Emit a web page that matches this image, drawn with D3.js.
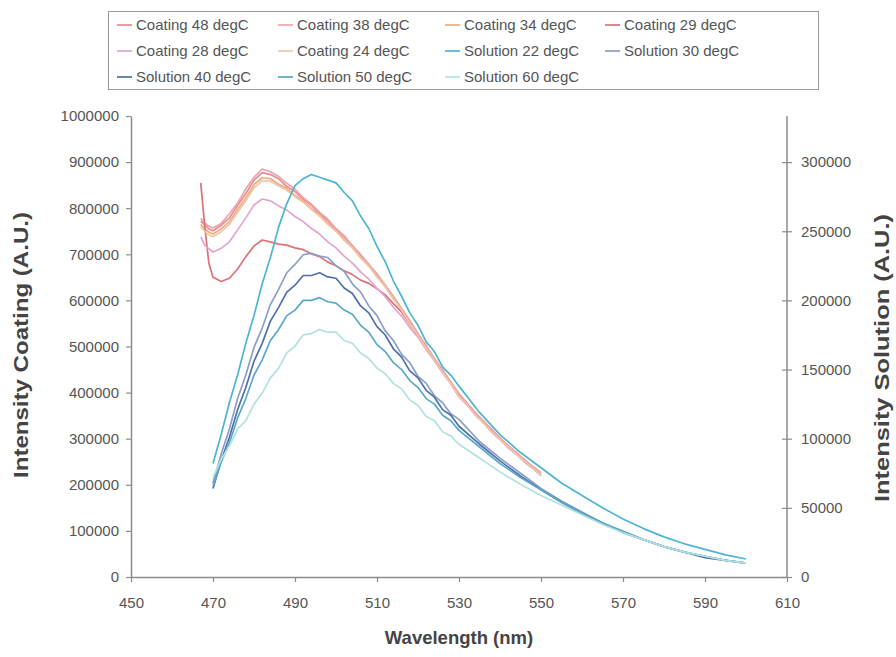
<!DOCTYPE html>
<html>
<head>
<meta charset="utf-8">
<script src="https://cdn.jsdelivr.net/npm/d3@7"></script>
<style>
  body { margin: 0; background: #fff; }
  svg { display: block; font-family: "Liberation Sans", Arial, sans-serif; }
</style>
</head>
<body>
<svg id="chart" width="896" height="657"></svg>
<script>
// Emission spectra: coating samples (left axis) and solution samples (right axis)
const coatingNm = [467, 468, 469, 470, 472, 474, 476, 478, 480, 482, 484, 486, 488, 490, 492, 494, 496, 498, 500,
  502, 504, 506, 508, 510, 512, 514, 516, 518, 520, 522, 524, 526, 528, 530, 532, 534, 536, 538, 540,
  542, 544, 546, 548, 550];

const coating48 = [772e3, 764e3, 755e3, 751e3, 763e3, 779e3, 806e3, 832e3, 861e3, 877e3, 873e3, 864e3, 847e3, 836e3, 820e3, 806e3, 788e3, 773e3, 754e3,
  737e3, 718e3, 697e3, 678e3, 655e3, 633e3, 606e3, 582e3, 553e3, 528e3, 499e3, 474e3, 447e3, 423e3, 396e3, 377e3, 355e3, 338e3, 318e3, 302e3,
  284e3, 270e3, 253e3, 240e3, 225e3];
const coating38 = [778e3, 768e3, 761e3, 757e3, 767e3, 788e3, 811e3, 842e3, 867e3, 885e3, 879e3, 869e3, 854e3, 841e3, 823e3, 809e3, 791e3, 776e3, 756e3,
  740e3, 719e3, 700e3, 678e3, 658e3, 633e3, 609e3, 582e3, 557e3, 527e3, 502e3, 473e3, 450e3, 422e3, 398e3, 376e3, 357e3, 337e3, 321e3, 301e3,
  286e3, 269e3, 255e3, 239e3, 227e3];
const coating34 = [765e3, 755e3, 748e3, 744e3, 755e3, 771e3, 797e3, 822e3, 851e3, 866e3, 864e3, 852e3, 843e3, 828e3, 816e3, 799e3, 785e3, 767e3, 751e3,
  732e3, 715e3, 693e3, 675e3, 652e3, 630e3, 604e3, 580e3, 551e3, 526e3, 497e3, 472e3, 445e3, 421e3, 393e3, 375e3, 353e3, 336e3, 316e3, 300e3,
  282e3, 268e3, 251e3, 238e3, 223e3];
const coating29 = [855e3, 760e3, 680e3, 650e3, 641e3, 648e3, 668e3, 695e3, 718e3, 731e3, 727e3, 722e3, 720e3, 714e3, 710e3, 701e3, 695e3, 683e3, 675e3,
  664e3, 656e3, 644e3, 637e3, 625e3, 612e3, 593e3, 575e3, 549e3, 525e3, 496e3, 471e3, 444e3, 420e3, 392e3, 374e3, 352e3, 335e3, 315e3, 299e3,
  281e3, 267e3, 250e3, 237e3, 221e3];
const coating28 = [738e3, 720e3, 712e3, 705e3, 713e3, 727e3, 753e3, 779e3, 807e3, 820e3, 816e3, 805e3, 796e3, 782e3, 771e3, 756e3, 744e3, 727e3, 714e3,
  696e3, 681e3, 662e3, 646e3, 626e3, 608e3, 585e3, 566e3, 541e3, 520e3, 493e3, 469e3, 443e3, 419e3, 391e3, 373e3, 351e3, 334e3, 314e3, 298e3,
  280e3, 266e3, 249e3, 236e3, 220e3];
const coating24 = [760e3, 750e3, 742e3, 738e3, 749e3, 765e3, 791e3, 816e3, 844e3, 860e3, 859e3, 848e3, 839e3, 825e3, 813e3, 797e3, 783e3, 765e3, 750e3,
  730e3, 714e3, 692e3, 674e3, 651e3, 629e3, 603e3, 579e3, 550e3, 525e3, 496e3, 471e3, 444e3, 420e3, 392e3, 374e3, 352e3, 335e3, 315e3, 299e3,
  282e3, 267e3, 251e3, 237e3, 222e3];

const solutionNm = [470, 472, 474, 476, 478, 480, 482, 484, 486, 488, 490, 492, 494, 496, 498, 500, 502, 504, 506, 508,
  510, 512, 514, 516, 518, 520, 522, 524, 526, 528, 530, 535, 540, 545, 550, 555, 560, 565, 570, 575,
  580, 585, 590, 595, 600];

const solution22 = [82e3, 103e3, 126e3, 146e3, 169e3, 189e3, 212e3, 231e3, 253e3, 270e3, 283e3, 288e3, 291e3, 289e3, 287e3, 285e3, 278e3, 272e3, 261e3, 252e3,
  239e3, 228e3, 214e3, 203e3, 191e3, 182e3, 170e3, 163e3, 152e3, 146e3, 138e3, 119e3, 103e3, 90e3, 79e3, 68e3, 59e3, 50e3, 42e3, 35e3,
  29e3, 24e3, 20e3, 16e3, 13e3];
const solution30 = [68e3, 89e3, 107e3, 129e3, 146e3, 166e3, 180e3, 197e3, 208e3, 220e3, 226e3, 233e3, 234e3, 232e3, 231e3, 225e3, 221e3, 212e3, 206e3, 196e3,
  189e3, 178e3, 171e3, 161e3, 155e3, 145e3, 140e3, 131e3, 126e3, 118e3, 114e3, 98e3, 86e3, 75e3, 64e3, 55e3, 47e3, 39e3, 33e3, 27e3,
  22e3, 18e3, 15e3, 12e3, 10e3];
const solution40 = [64e3, 84e3, 101e3, 121e3, 137e3, 156e3, 169e3, 185e3, 195e3, 206e3, 211e3, 218e3, 218e3, 220e3, 217e3, 216e3, 209e3, 205e3, 196e3, 191e3,
  181e3, 175e3, 165e3, 159e3, 149e3, 144e3, 135e3, 130e3, 121e3, 117e3, 109e3, 96e3, 84e3, 73e3, 63e3, 54e3, 46e3, 39e3, 32e3, 27e3,
  22e3, 18e3, 14e3, 12e3, 10e3];
const solution50 = [66e3, 83e3, 97e3, 115e3, 129e3, 146e3, 157e3, 171e3, 179e3, 189e3, 193e3, 200e3, 200e3, 202e3, 199e3, 198e3, 193e3, 190e3, 182e3, 177e3,
  168e3, 163e3, 155e3, 150e3, 142e3, 137e3, 129e3, 125e3, 117e3, 113e3, 106e3, 94e3, 82e3, 72e3, 63e3, 54e3, 46e3, 39e3, 33e3, 27e3,
  22e3, 18e3, 15e3, 12e3, 10e3];
const solution60 = [72e3, 85e3, 95e3, 107e3, 113e3, 125e3, 133e3, 144e3, 151e3, 162e3, 167e3, 175e3, 176e3, 179e3, 177e3, 177e3, 171e3, 169e3, 162e3, 158e3,
  151e3, 147e3, 140e3, 136e3, 128e3, 124e3, 116e3, 113e3, 105e3, 102e3, 96e3, 86e3, 76e3, 67e3, 59e3, 52e3, 45e3, 38e3, 32e3, 27e3,
  22e3, 18e3, 15e3, 12e3, 10e3];

const seriesNames = ["Coating 48 degC", "Coating 38 degC", "Coating 34 degC", "Coating 29 degC",
  "Coating 28 degC", "Coating 24 degC", "Solution 22 degC", "Solution 30 degC",
  "Solution 40 degC", "Solution 50 degC", "Solution 60 degC"];
const seriesColors = ["#e98a90", "#f1a3ad", "#f2aa80", "#de7176", "#e4a4cf", "#ecc8a8",
  "#4db4d4", "#8b9fc6", "#4e70ad", "#5aa8c8", "#b2e2df"];

const xTicks = [450, 470, 490, 510, 530, 550, 570, 590, 610];
const leftTicks = [0, 100000, 200000, 300000, 400000, 500000, 600000, 700000, 800000, 900000, 1000000];
const rightTicks = [0, 50000, 100000, 150000, 200000, 250000, 300000];

const series = [
  { name: seriesNames[0], nm: coatingNm, v: coating48, axis: "left" },
  { name: seriesNames[1], nm: coatingNm, v: coating38, axis: "left" },
  { name: seriesNames[2], nm: coatingNm, v: coating34, axis: "left" },
  { name: seriesNames[3], nm: coatingNm, v: coating29, axis: "left" },
  { name: seriesNames[4], nm: coatingNm, v: coating28, axis: "left" },
  { name: seriesNames[5], nm: coatingNm, v: coating24, axis: "left" },
  { name: seriesNames[6], nm: solutionNm, v: solution22, axis: "right" },
  { name: seriesNames[7], nm: solutionNm, v: solution30, axis: "right" },
  { name: seriesNames[8], nm: solutionNm, v: solution40, axis: "right" },
  { name: seriesNames[9], nm: solutionNm, v: solution50, axis: "right" },
  { name: seriesNames[10], nm: solutionNm, v: solution60, axis: "right" }
].map((s, i) => ({ ...s, color: seriesColors[i] }));

const svg = d3.select("#chart");
const plot = { left: 131, right: 787, top: 116, bottom: 577 };
const axisColor = "#8c8c8c";
const textColor = "#555";

const x = d3.scaleLinear().domain([450, 610]).range([plot.left, plot.right]);
const yLeft = d3.scaleLinear().domain([0, 1000000]).range([plot.bottom, plot.top]);
const yRight = d3.scaleLinear().domain([0, 1000000 / 3]).range([plot.bottom, plot.top]);

// Curves
const linesG = svg.append("g");
series.forEach(s => {
  const yS = s.axis === "left" ? yLeft : yRight;
  const line = d3.line().x(d => x(d[0])).y(d => yS(d[1]));
  linesG.append("path")
    .datum(d3.zip(s.nm, s.v))
    .attr("d", line)
    .attr("fill", "none")
    .attr("stroke", s.color)
    .attr("stroke-width", 1.7)
    .attr("stroke-linejoin", "round");
});

function styleAxis(g) {
  g.select(".domain").attr("stroke", axisColor).attr("stroke-width", 1.5);
  g.selectAll(".tick line").attr("stroke", axisColor).attr("stroke-width", 1.2);
  g.selectAll(".tick text").attr("fill", textColor).attr("font-size", 15)
    .attr("font-family", "Liberation Sans, Arial, sans-serif");
}

// Axes
svg.append("g")
  .attr("transform", `translate(0,${plot.bottom})`)
  .call(d3.axisBottom(x).tickValues(xTicks).tickSize(5).tickSizeOuter(0).tickPadding(15).tickFormat(d3.format("d")))
  .call(styleAxis);

svg.append("g")
  .attr("transform", `translate(${plot.left},0)`)
  .call(d3.axisLeft(yLeft).tickValues(leftTicks).tickSize(5).tickSizeOuter(0).tickPadding(7).tickFormat(d3.format("d")))
  .call(styleAxis);

const rightAxis = svg.append("g")
  .attr("transform", `translate(${plot.right},0)`)
  .call(d3.axisRight(yRight).tickValues(rightTicks).tickSize(5).tickSizeOuter(0).tickPadding(9).tickFormat(d3.format("d")))
  .call(styleAxis);
rightAxis.selectAll(".tick line").attr("x1", -5);
rightAxis.select(".domain").attr("d", `M0,${plot.bottom}V${plot.top}`);

// Axis titles
svg.append("text")
  .attr("x", (plot.left + plot.right) / 2).attr("y", 644)
  .attr("text-anchor", "middle").attr("font-size", 18.5).attr("font-weight", "bold")
  .attr("fill", "#444").text("Wavelength (nm)");

svg.append("text")
  .attr("transform", "translate(28,345) rotate(-90)")
  .attr("text-anchor", "middle").attr("font-size", 21).attr("font-weight", "bold")
  .attr("textLength", 266).attr("lengthAdjust", "spacingAndGlyphs")
  .attr("fill", "#444").text("Intensity Coating (A.U.)");

svg.append("text")
  .attr("transform", "translate(889,358) rotate(-90)")
  .attr("text-anchor", "middle").attr("font-size", 21).attr("font-weight", "bold")
  .attr("textLength", 288).attr("lengthAdjust", "spacingAndGlyphs")
  .attr("fill", "#444").text("Intensity Solution (A.U.)");

// Legend
const legend = svg.append("g");
legend.append("rect")
  .attr("x", 108.5).attr("y", 11.5).attr("width", 710).attr("height", 78)
  .attr("fill", "#fff").attr("stroke", "#9a9a9a").attr("stroke-width", 1);
const colX = [117, 278, 445, 605];
const rowY = [25, 51, 77];
series.forEach((s, i) => {
  const cx = colX[i % 4], cy = rowY[Math.floor(i / 4)];
  legend.append("line")
    .attr("x1", cx).attr("x2", cx + 15).attr("y1", cy).attr("y2", cy)
    .attr("stroke", s.color).attr("stroke-width", 1.7);
  legend.append("text")
    .attr("x", cx + 19).attr("y", cy + 5)
    .attr("font-size", 15).attr("fill", textColor).text(s.name);
});
</script>
</body>
</html>
